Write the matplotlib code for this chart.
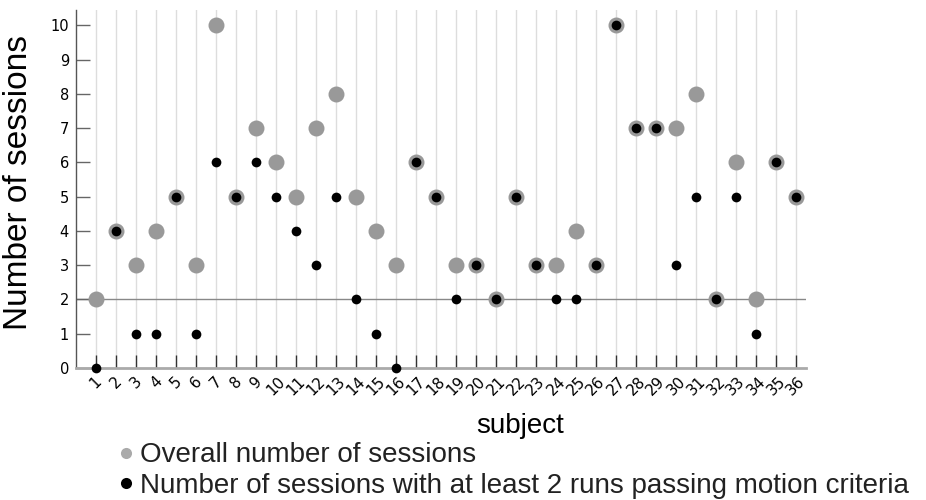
import matplotlib
matplotlib.use('Agg')
import matplotlib.pyplot as plt
from matplotlib.lines import Line2D

subjects = list(range(1, 37))
overall_sessions = [2, 4, 3, 4, 5, 3, 10, 5, 7, 6, 5, 7, 8, 5, 4, 3, 6, 5,
                    3, 3, 2, 5, 3, 3, 4, 3, 10, 7, 7, 7, 8, 2, 6, 2, 6, 5]
passing_sessions = [0, 4, 1, 1, 5, 1, 6, 5, 6, 5, 4, 3, 5, 2, 1, 0, 6, 5,
                    2, 3, 2, 5, 3, 2, 2, 3, 10, 7, 7, 3, 5, 2, 5, 1, 6, 5]
threshold = 2
overall_label = 'Overall number of sessions'
passing_label = 'Number of sessions with at least 2 runs passing motion criteria'

label_font = ['Liberation Sans', 'DejaVu Sans']

fig = plt.figure(figsize=(9.26, 5), dpi=100)
ax = fig.add_axes([76 / 926, 1 - 368 / 500, (806 - 76) / 926, (368 - 10) / 500])

for s in subjects:
    ax.axvline(s, color='#dddddd', linewidth=1, zorder=0)
ax.axhline(threshold, color='#888888', linewidth=1, zorder=1)

ax.plot(subjects, overall_sessions, 'o', color='#999999', markersize=11.5,
        markeredgewidth=0, zorder=2)
ax.plot(subjects, passing_sessions, 'o', color='black', markersize=7,
        markeredgewidth=0, zorder=3, clip_on=False)

ax.set_xlim(0, 36.5)
ax.set_ylim(0, 10.45)
ax.set_xticks(subjects)
ax.set_xticklabels([str(s) for s in subjects], rotation=45, fontsize=11)
ax.set_yticks(range(0, 11))
ax.tick_params(axis='x', direction='in', length=9.5, width=1, color='#333333', pad=4)
ax.tick_params(axis='y', direction='in', length=10, width=1, color='#666666',
               labelsize=10.5, pad=5)

for side in ['top', 'right']:
    ax.spines[side].set_visible(False)
ax.spines['left'].set_color('#555555')
ax.spines['left'].set_linewidth(1)
ax.spines['bottom'].set_color('#aaaaaa')
ax.spines['bottom'].set_linewidth(2)

ax.set_ylabel('Number of sessions', fontsize=24, family=label_font)
ax.yaxis.set_label_coords(-42 / 730, (368 - 183) / 358)
ax.set_xlabel('subject', fontsize=20, family=label_font)
ax.xaxis.set_label_coords((520 - 76) / 730, -(413 - 368) / 358)
ax.xaxis.label.set_verticalalignment('top')

handles = [
    Line2D([], [], marker='o', linestyle='none', color='#aaaaaa', markersize=8,
           markeredgewidth=0),
    Line2D([], [], marker='o', linestyle='none', color='black', markersize=8,
           markeredgewidth=0),
]
fig.legend(handles, [overall_label, passing_label], loc='lower left',
           bbox_to_anchor=(116 / 926, 0.0), frameon=False,
           prop={'family': label_font, 'size': 20}, handlelength=0.6,
           handletextpad=0.2, labelspacing=0.15, borderpad=0.05,
           borderaxespad=0.0, labelcolor='#222222')

fig.savefig('out.png', dpi=100)
